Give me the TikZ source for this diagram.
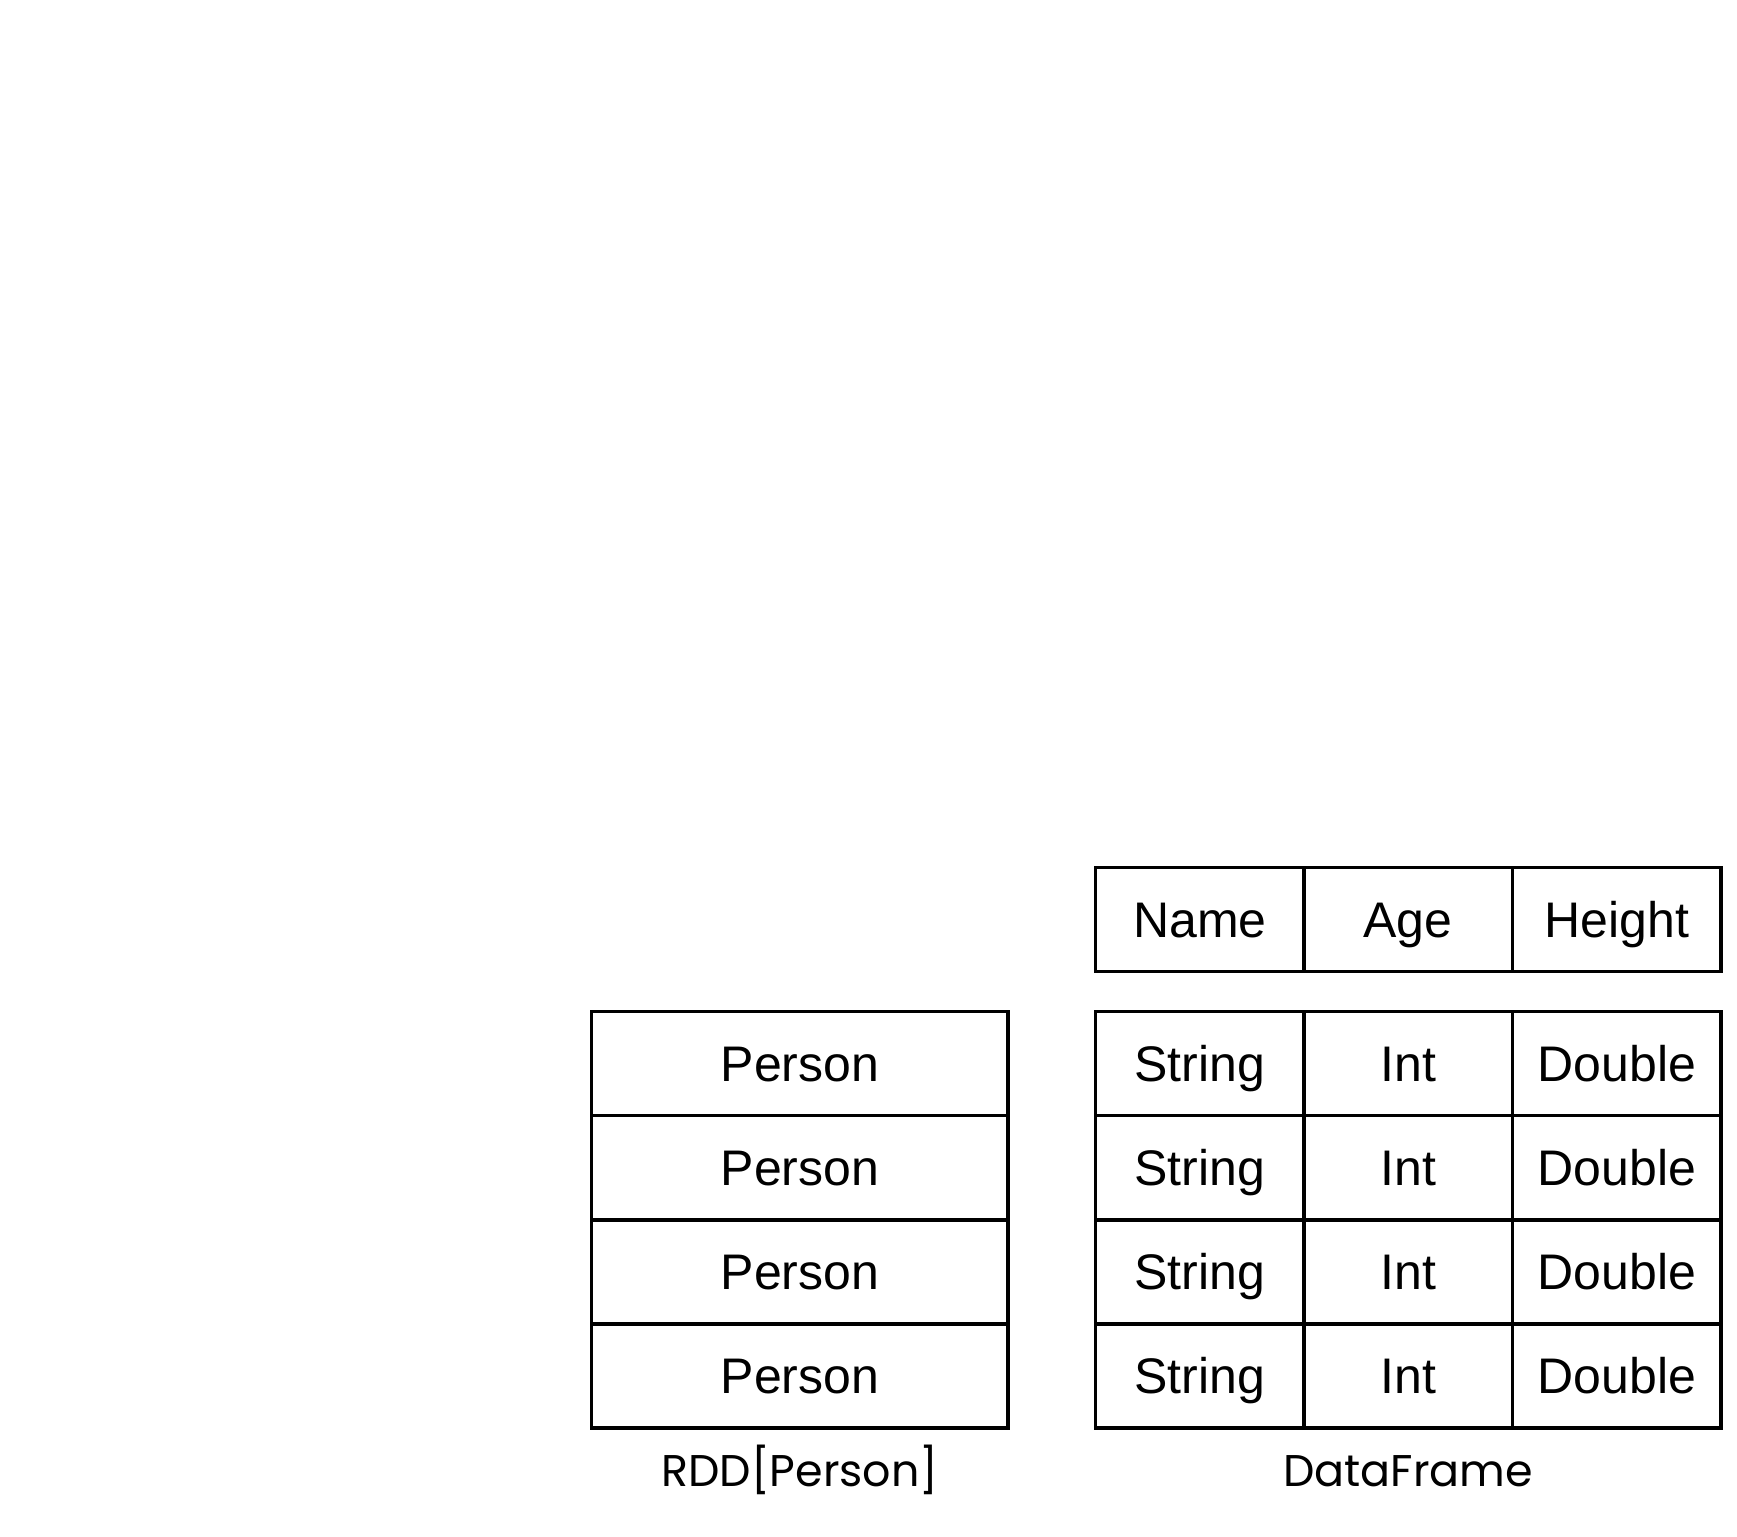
\documentclass[tikz,border=0pt]{standalone}
\usepackage{fontspec}
\setmainfont{Liberation Sans}
\newfontfamily\labelfont{Poppins}
\begin{document}
\begin{tikzpicture}[x=0.5pt,y=-0.5pt,
  cell/.style={draw, line width=1.8pt, inner sep=0pt, minimum height=52.05pt,
    text height=17.9pt, text depth=0pt, font=\fontsize{25pt}{29pt}\selectfont},
  rddcell/.style={cell, minimum width=208.25pt},
  dfcell/.style={cell, minimum width=104.3pt},
  caption/.style={anchor=base, font=\labelfont\fontsize{22.2pt}{26pt}\selectfont}]
\useasboundingbox (0,0) rectangle (1737,1537);
% RDD
\node[rddcell] (r1) at (799.9,1063.5) {Person};
\node[rddcell] (r2) at (799.9,1167.6) {Person};
\node[rddcell] (r3) at (799.9,1271.8) {Person};
\node[rddcell] (r4) at (799.9,1375.9) {Person};
\node[caption] (rl) at (799.9,1486) {RDD[Person]};
% DataFrame header
\node[dfcell] (h1) at (1199.8,919.5) {Name};
\node[dfcell] (h2) at (1408.1,919.5) {Age};
\node[dfcell] (h3) at (1616.9,919.5) {Height};
% DataFrame rows
\foreach \i/\y in {1/1063.5,2/1167.6,3/1271.8,4/1375.9}{
  \node[dfcell] (d\i a) at (1199.8,\y) {String};
  \node[dfcell] (d\i b) at (1408.1,\y) {Int};
  \node[dfcell] (d\i c) at (1616.9,\y) {Double};
}
\node[caption] (dl) at (1408.3,1486) {DataFrame};
\end{tikzpicture}
\end{document}
